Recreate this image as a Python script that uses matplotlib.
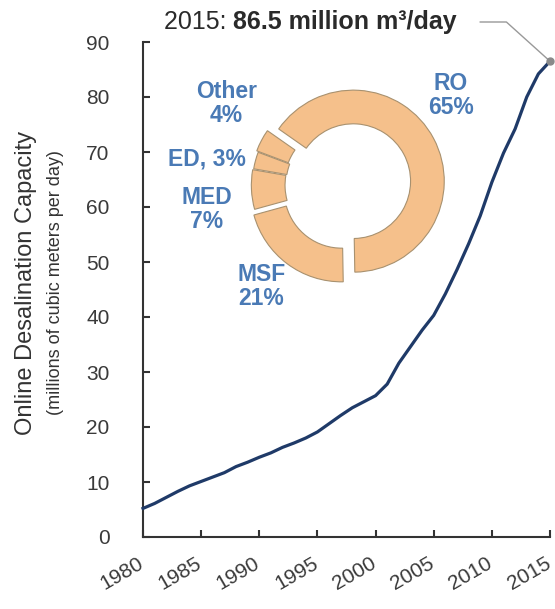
"""
Online desalination capacity 1980-2015 with technology share donut
"""

import matplotlib
matplotlib.use('Agg')
import matplotlib.pyplot as plt
import matplotlib.transforms as mtransforms
import numpy as np

plt.rcParams['font.family'] = ['Liberation Sans', 'DejaVu Sans']

# capacity curve (million m3/day)
years = np.arange(1980, 2016)
capacity = [5.2, 6.1, 7.2, 8.3, 9.3, 10.1, 10.9, 11.7, 12.8, 13.6,
            14.5, 15.3, 16.3, 17.1, 18.0, 19.1, 20.6, 22.1, 23.5, 24.6,
            25.7, 27.8, 31.6, 34.6, 37.6, 40.3, 44.2, 48.6, 53.3, 58.4,
            64.5, 69.8, 74.2, 80.0, 84.2, 86.5]

# technology shares (%), clockwise from upper left
tech_names = ['RO', 'MSF', 'MED', 'ED', 'Other']
tech_share = [65, 21, 7, 3, 4]
tech_labels = ['RO\n65%', 'MSF\n21%', 'MED\n7%', 'ED, 3%', 'Other\n4%']

xticks = list(range(1980, 2016, 5))
yticks = list(range(0, 91, 10))

W, H = 555, 609
fig = plt.figure(figsize=(W / 100, H / 100), dpi=100)

def px(x, y):
    return x / W, 1 - y / H

# main axes
l, t = px(143, 42)
r, b = px(550, 537)
ax = fig.add_axes([l, b, r - l, t - b])
ax.plot(years, capacity, color='#1f3a68', linewidth=2.3, clip_on=False, zorder=3)
ax.set_xlim(1980, 2015)
ax.set_ylim(0, 90)
ax.set_xticks(xticks)
ax.set_yticks(yticks)
for s in ['top', 'right']:
    ax.spines[s].set_visible(False)
for s in ['left', 'bottom']:
    ax.spines[s].set_color('#333333')
    ax.spines[s].set_linewidth(1.5)
ax.tick_params(axis='y', direction='in', length=5, width=1.5, color='#333333',
               labelsize=15, labelcolor='#3a3a3a', pad=24)
ax.tick_params(axis='x', direction='in', length=5, width=1.5, color='#333333',
               labelsize=15, labelcolor='#3a3a3a', pad=12)
shift = mtransforms.ScaledTranslation(-4 / 72, 0, fig.dpi_scale_trans)
for lab in ax.get_xticklabels():
    lab.set_rotation(30)
    lab.set_ha('right')
    lab.set_va('top')
    lab.set_rotation_mode('anchor')
    lab.set_transform(lab.get_transform() + shift)

# y label, two lines
fig.text(*px(26, 283), 'Online Desalination Capacity', rotation=90,
         ha='center', va='center', fontsize=17, color='#333333')
fig.text(*px(56, 283), '(millions of cubic meters per day)', rotation=90,
         ha='center', va='center', fontsize=13, color='#333333')

# 2015 end point + callout
ax.plot(years[-1], capacity[-1], 'o', color='#8a8a8a', markersize=5,
        clip_on=False, zorder=4)
ax.annotate('', xy=(years[-1], capacity[-1]), xytext=px(480, 22),
            textcoords='figure fraction',
            arrowprops=dict(arrowstyle='-', color='#999999', lw=1,
                            shrinkA=0, shrinkB=2,
                            connectionstyle='angle,angleA=0,angleB=138,rad=0'))
bold = fig.text(*px(457, 22), '86.5 million m\u00b3/day', ha='right', va='center',
                fontsize=18, fontweight='bold', color='#2a2a2a')
ax.annotate('2015: ', xy=(0, 0), xycoords=bold, ha='right', va='bottom',
            fontsize=18, color='#2a2a2a')

# donut inset
cx, cy, rad = 346, 185, 91
dl, db = px(cx - 1.2 * rad, cy + 1.2 * rad)
dax = fig.add_axes([dl, db, 2.4 * rad / W, 2.4 * rad / H])
dax.pie(tech_share, startangle=145, counterclock=False,
        explode=[0.09, 0.08, 0.04, 0.03, 0.05],
        colors=['#f5c08b'] * len(tech_share),
        wedgeprops=dict(width=0.37, edgecolor='#a8916f', linewidth=0.8))
dax.set_xlim(-1.2, 1.2)
dax.set_ylim(-1.2, 1.2)
dax.set_aspect('equal')
dax.axis('off')

label_pos = {'RO': (1.15, 0.98), 'MSF': (-0.93, -1.12), 'MED': (-1.53, -0.27),
             'ED': (-1.53, 0.29), 'Other': (-1.315, 0.90)}
for name, text in zip(tech_names, tech_labels):
    x, y = label_pos[name]
    dax.text(x, y, text, ha='center', va='center', fontsize=16.5,
             fontweight='bold', color='#4a7ab5', linespacing=1.05)

fig.savefig('out.png', dpi=100)
